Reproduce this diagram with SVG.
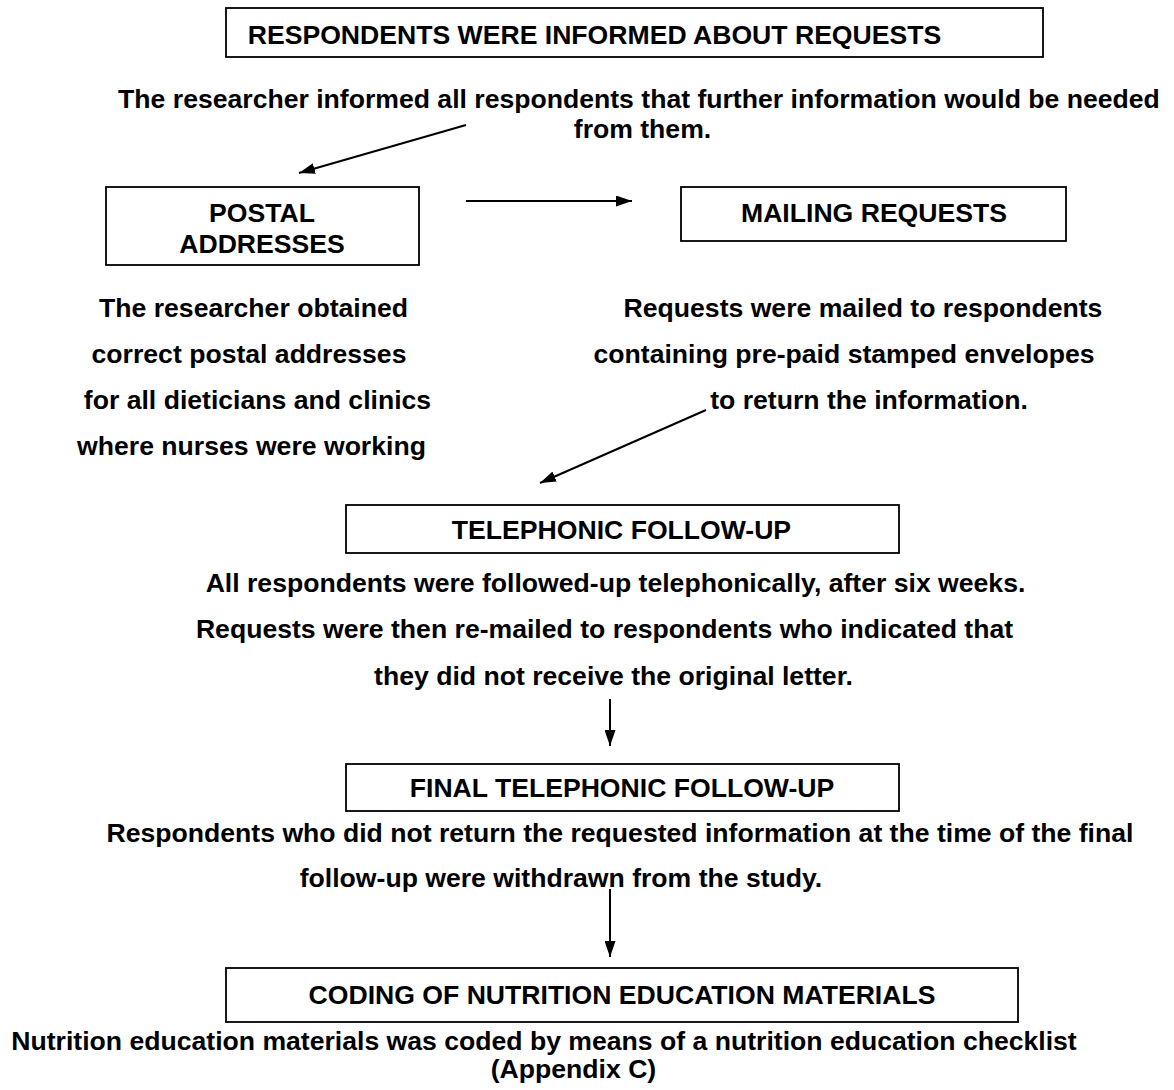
<svg xmlns="http://www.w3.org/2000/svg" width="1174" height="1090" viewBox="0 0 1174 1090">
<defs>
<style>
.box{fill:#fff;stroke:#000;stroke-width:1.8}
.t{font-family:"Liberation Sans",Arial,sans-serif;font-weight:bold;font-size:26.6px;fill:#000;text-anchor:middle}
.c{fill:none;stroke:#000;stroke-width:2}
</style>
<marker id="ah" viewBox="0 0 16 11" refX="16" refY="5.5" markerWidth="16" markerHeight="11" markerUnits="userSpaceOnUse" orient="auto">
<path d="M0,0 L16,5.5 L0,11 z" fill="#000"/>
</marker>
</defs>
<rect width="1174" height="1090" fill="#fff"/>
<g id="connectors">
<line class="c" x1="466" y1="125" x2="299" y2="173" marker-end="url(#ah)"/>
<line class="c" x1="466" y1="201" x2="632" y2="201" marker-end="url(#ah)"/>
<line class="c" x1="706" y1="410" x2="540" y2="483" marker-end="url(#ah)"/>
<line class="c" x1="610" y1="699" x2="610" y2="746" marker-end="url(#ah)"/>
<line class="c" x1="610" y1="889" x2="610" y2="957" marker-end="url(#ah)"/>
</g>
<g id="informed">
<rect class="box" x="226" y="8" width="817" height="49"/>
<text class="t" x="594.5" y="44">RESPONDENTS WERE INFORMED ABOUT REQUESTS</text>
<text class="t" x="639" y="108">The researcher informed all respondents that further information would be needed</text>
<text class="t" x="642.5" y="138">from them.</text>
</g>
<g id="postal">
<rect class="box" x="106" y="187" width="313" height="78"/>
<text class="t" x="262" y="222">POSTAL</text>
<text class="t" x="262" y="253">ADDRESSES</text>
<text class="t" x="253.5" y="317">The researcher obtained</text>
<text class="t" x="249" y="363">correct postal addresses</text>
<text class="t" x="257.5" y="409">for all dieticians and clinics</text>
<text class="t" x="251.5" y="455">where nurses were working</text>
</g>
<g id="mailing">
<rect class="box" x="681" y="187" width="385" height="54"/>
<text class="t" x="874" y="222">MAILING REQUESTS</text>
<text class="t" x="863" y="317">Requests were mailed to respondents</text>
<text class="t" x="844" y="363">containing pre-paid stamped envelopes</text>
<text class="t" x="869" y="409">to return the information.</text>
</g>
<g id="telephonic">
<rect class="box" x="346" y="505" width="553" height="48"/>
<text class="t" x="621.5" y="539">TELEPHONIC FOLLOW-UP</text>
<text class="t" x="615.5" y="592">All respondents were followed-up telephonically, after six weeks.</text>
<text class="t" x="604.5" y="638">Requests were then re-mailed to respondents who indicated that</text>
<text class="t" x="613.5" y="685">they did not receive the original letter.</text>
</g>
<g id="final">
<rect class="box" x="346" y="764" width="553" height="47"/>
<text class="t" x="622" y="797">FINAL TELEPHONIC FOLLOW-UP</text>
<text class="t" x="620" y="842">Respondents who did not return the requested information at the time of the final</text>
<text class="t" x="561" y="887">follow-up were withdrawn from the study.</text>
</g>
<g id="coding">
<rect class="box" x="226" y="968" width="792" height="54"/>
<text class="t" x="622" y="1004">CODING OF NUTRITION EDUCATION MATERIALS</text>
<text class="t" x="544" y="1050">Nutrition education materials was coded by means of a nutrition education checklist</text>
<text class="t" x="573.5" y="1078">(Appendix C)</text>
</g>
</svg>
